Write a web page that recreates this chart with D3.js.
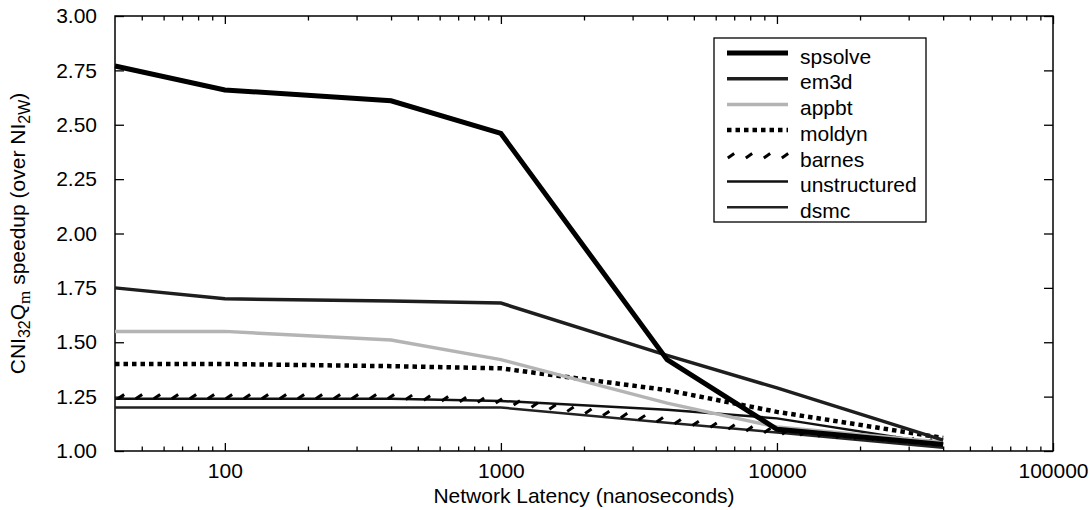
<!DOCTYPE html>
<html>
<head>
<meta charset="utf-8">
<script src="https://cdn.jsdelivr.net/npm/d3@7"></script>
<style>
  body { margin: 0; background: #fff; }
  svg { display: block; font-family: "Liberation Sans", Arial, sans-serif; }
</style>
</head>
<body>
<svg id="chart" width="1090" height="510"></svg>
<script>
// latency in nanoseconds
var latency = [40, 100, 400, 1000, 4000, 10000, 40000];

var spsolve      = [2.77, 2.66, 2.61, 2.46, 1.42, 1.10, 1.03];
var em3d         = [1.75, 1.70, 1.69, 1.68, 1.44, 1.29, 1.05];
var appbt        = [1.55, 1.55, 1.51, 1.42, 1.22, 1.11, 1.04];
var moldyn       = [1.40, 1.40, 1.39, 1.38, 1.28, 1.18, 1.06];
var barnes       = [1.25, 1.25, 1.25, 1.23, 1.14, 1.09, 1.04];
var unstructured = [1.24, 1.24, 1.24, 1.23, 1.19, 1.15, 1.03];
var dsmc         = [1.20, 1.20, 1.20, 1.20, 1.13, 1.085, 1.015];

var seriesNames = ['spsolve', 'em3d', 'appbt', 'moldyn', 'barnes', 'unstructured', 'dsmc'];
var seriesValues = [spsolve, em3d, appbt, moldyn, barnes, unstructured, dsmc];

var xMajorTicks = [100, 1000, 10000, 100000];
var yTickValues = [1.00, 1.25, 1.50, 1.75, 2.00, 2.25, 2.50, 2.75, 3.00];

var styles = {
  spsolve:      { color: '#000', width: 5 },
  em3d:         { color: '#1e1e1e', width: 3.5 },
  appbt:        { color: '#b4b4b4', width: 3.5 },
  moldyn:       { color: '#000', width: 4.5, dash: '4.5,4' },
  barnes:       { color: '#000', width: 3, slanted: true },
  unstructured: { color: '#111', width: 2.5 },
  dsmc:         { color: '#222', width: 2.5 }
};

var fontSize = 21;
var pLeft = 115, pRight = 1053, pTop = 16, pBottom = 451;
var svg = d3.select('#chart');

var x = d3.scaleLog().domain([40, 100000]).range([pLeft, pRight]);
var y = d3.scaleLinear().domain([1, 3]).range([pBottom, pTop]);

// minor ticks for the log axis
var xMinorTicks = [];
[10, 100, 1000, 10000].forEach(function(dec) {
  for (var k = 2; k <= 9; k++) {
    if (dec * k > 40) xMinorTicks.push(dec * k);
  }
});

function cleanAxis(g) {
  g.select('.domain').remove();
  g.selectAll('.tick line').attr('stroke', '#000').attr('stroke-width', 1.3);
  g.selectAll('text').attr('fill', '#000').attr('font-size', fontSize)
    .attr('font-family', '"Liberation Sans", Arial, sans-serif');
}

// bottom
svg.append('g').attr('transform', 'translate(0,' + pBottom + ')')
  .call(d3.axisBottom(x).tickValues(xMajorTicks).tickSize(-8).tickPadding(12)
    .tickFormat(d3.format('d')))
  .call(cleanAxis);
svg.append('g').attr('transform', 'translate(0,' + pBottom + ')')
  .call(d3.axisBottom(x).tickValues(xMinorTicks).tickSize(-4.5).tickFormat(''))
  .call(cleanAxis);
// top
svg.append('g').attr('transform', 'translate(0,' + pTop + ')')
  .call(d3.axisTop(x).tickValues(xMajorTicks).tickSize(-8).tickFormat(''))
  .call(cleanAxis);
svg.append('g').attr('transform', 'translate(0,' + pTop + ')')
  .call(d3.axisTop(x).tickValues(xMinorTicks).tickSize(-4.5).tickFormat(''))
  .call(cleanAxis);
// left
svg.append('g').attr('transform', 'translate(' + pLeft + ',0)')
  .call(d3.axisLeft(y).tickValues(yTickValues).tickSize(-9).tickPadding(18)
    .tickFormat(d3.format('.2f')))
  .call(cleanAxis);
// right
svg.append('g').attr('transform', 'translate(' + pRight + ',0)')
  .call(d3.axisRight(y).tickValues(yTickValues).tickSize(-9).tickFormat(''))
  .call(cleanAxis);

// frame
svg.append('rect')
  .attr('x', pLeft).attr('y', pTop)
  .attr('width', pRight - pLeft).attr('height', pBottom - pTop)
  .attr('fill', 'none').attr('stroke', '#000').attr('stroke-width', 1.5);

// axis titles
svg.append('text')
  .attr('x', (pLeft + pRight) / 2).attr('y', 503)
  .attr('text-anchor', 'middle').attr('font-size', fontSize)
  .text('Network Latency (nanoseconds)');

var yt = svg.append('text')
  .attr('transform', 'translate(25,' + ((pTop + pBottom) / 2) + ') rotate(-90)')
  .attr('text-anchor', 'middle').attr('font-size', fontSize);
yt.append('tspan').text('CNI');
yt.append('tspan').attr('dy', 5).attr('font-size', 16).text('32');
yt.append('tspan').attr('dy', -5).text('Q');
yt.append('tspan').attr('dy', 5).attr('font-size', 17)
  .attr('font-family', '"Liberation Serif", serif').text('m');
yt.append('tspan').attr('dy', -5).text(' speedup (over NI');
yt.append('tspan').attr('dy', 5).attr('font-size', 16).text('2W');
yt.append('tspan').attr('dy', -5).text(')');

// slanted dash marks along a path
function slantedDashes(g, pathNode, step, offset, st) {
  var len = pathNode.getTotalLength();
  for (var s = offset; s < len; s += step) {
    var p = pathNode.getPointAtLength(s);
    g.append('line')
      .attr('x1', p.x - 3.2).attr('y1', p.y + 2.2)
      .attr('x2', p.x + 3.2).attr('y2', p.y - 2.2)
      .attr('stroke', st.color).attr('stroke-width', st.width)
      .attr('stroke-linecap', 'butt');
  }
}

var line = d3.line()
  .x(function(d) { return x(d[0]); })
  .y(function(d) { return y(d[1]); });

var plot = svg.append('g');
// draw bottom series first so spsolve stays on top
for (var i = seriesNames.length - 1; i >= 0; i--) {
  var name = seriesNames[i];
  var st = styles[name];
  var pts = latency.map(function(l, j) { return [l, seriesValues[i][j]]; });
  var path = plot.append('path')
    .attr('d', line(pts))
    .attr('fill', 'none')
    .attr('stroke', st.slanted ? 'none' : st.color)
    .attr('stroke-width', st.width)
    .attr('stroke-dasharray', st.dash || null);
  if (st.slanted) slantedDashes(plot, path.node(), 18, 6, st);
}

// legend
var lgX = 714, lgY = 38, lgW = 212, lgH = 184;
var legend = svg.append('g');
legend.append('rect')
  .attr('x', lgX).attr('y', lgY).attr('width', lgW).attr('height', lgH)
  .attr('fill', '#fff').attr('stroke', '#000').attr('stroke-width', 1.3);

seriesNames.forEach(function(name, i) {
  var st = styles[name];
  var ly = 53 + i * 25.7;
  var lp = legend.append('path')
    .attr('d', 'M727,' + ly + 'H788')
    .attr('fill', 'none')
    .attr('stroke', st.slanted ? 'none' : st.color)
    .attr('stroke-width', st.width)
    .attr('stroke-dasharray', st.dash || null);
  if (st.slanted) slantedDashes(legend, lp.node(), 18, 4, st);
  legend.append('text')
    .attr('x', 800).attr('y', ly + 4)
    .attr('dy', '0.32em')
    .attr('font-size', fontSize)
    .text(name);
});
</script>
</body>
</html>
